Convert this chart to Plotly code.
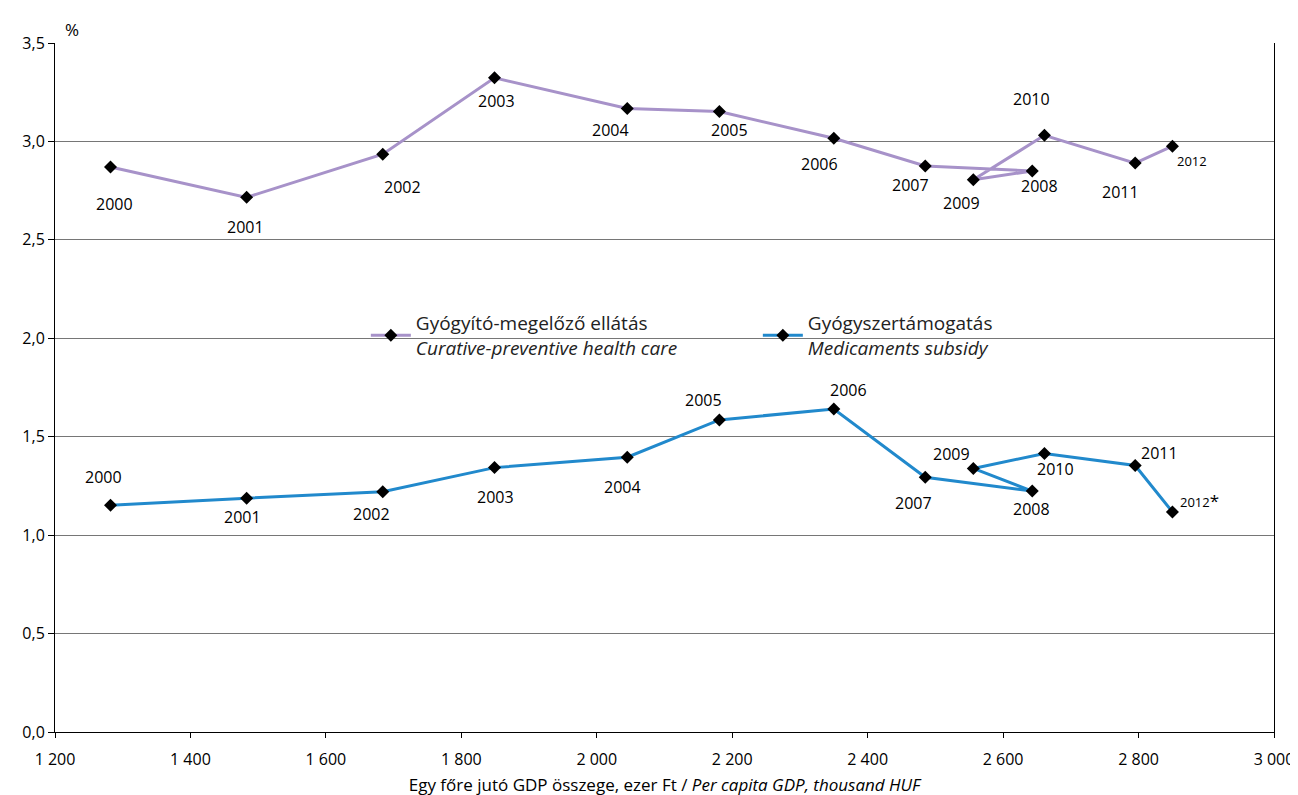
import plotly.graph_objects as go

YEARS = ["2000", "2001", "2002", "2003", "2004", "2005", "2006",
         "2007", "2008", "2009", "2010", "2011", "2012"]

# per capita GDP, thousand HUF
GDP = [1282, 1483, 1684, 1849, 2045, 2181, 2350, 2485, 2643, 2556, 2661, 2795, 2850]

# share of GDP, %
CURATIVE = [2.870, 2.716, 2.935, 3.323, 3.167, 3.152, 3.016, 2.875, 2.850, 2.805, 3.031, 2.890, 2.976]
MEDICAMENTS = [1.152, 1.188, 1.220, 1.343, 1.396, 1.585, 1.641, 1.294, 1.224, 1.339, 1.415, 1.354, 1.118]

# year label offsets in px (dx right, dy down)
CUR_OFF = [(4, 37), (-1, 30), (20, 33), (2, 23), (-17, 21), (10, 18), (-14, 26),
           (-15, 19), (7, 15), (-12, 23), (-13, -36), (-15, 29), (20, 15)]
MED_OFF = [(-7, -28), (-4, 19), (-11, 22), (1, 29), (-5, 30), (-16, -20), (15, -19),
           (-12, 26), (-1, 18), (-22, -14), (11, 16), (24, -12), (27, -11)]

PURPLE = "#a792c9"
BLUE = "#2189cc"
FONT = "Open Sans"

fig = go.Figure()
fig.add_trace(go.Scatter(
    x=GDP, y=CURATIVE, mode="lines+markers",
    name="Gyógyító-megelőző ellátás<br><i>Curative-preventive health care</i>",
    line=dict(color=PURPLE, width=3),
    marker=dict(symbol="diamond", size=10, color="black")))
fig.add_trace(go.Scatter(
    x=GDP, y=MEDICAMENTS, mode="lines+markers",
    name="Gyógyszertámogatás<br><i>Medicaments subsidy</i>",
    line=dict(color=BLUE, width=3),
    marker=dict(symbol="diamond", size=10, color="black")))

for i, yr in enumerate(YEARS):
    small = yr == "2012"
    dx, dy = CUR_OFF[i]
    fig.add_annotation(x=GDP[i], y=CURATIVE[i], text=yr, showarrow=False,
                       xshift=dx, yshift=-dy,
                       font=dict(size=13 if small else 16, color="black"))
    dx, dy = MED_OFF[i]
    txt = "2012<span style='font-size:17px'>*</span>" if small else yr
    fig.add_annotation(x=GDP[i], y=MEDICAMENTS[i], text=txt, showarrow=False,
                       xshift=dx, yshift=-dy,
                       font=dict(size=13 if small else 16, color="black"))

# white strip behind the legend, breaking the 2,0 gridline
fig.add_shape(type="rect", xref="paper", yref="y", x0=0.199, x1=0.810, y0=1.95, y1=2.05,
              fillcolor="white", line=dict(width=0), layer="between")

fig.add_annotation(xref="paper", yref="paper", x=0.0, y=1.0, xshift=8, yshift=14,
                   text="%", showarrow=False, xanchor="left", yanchor="middle",
                   font=dict(size=17, color="black"))

fig.update_xaxes(range=[1200, 3000], dtick=200, tickformat=",.0f",
                 showgrid=False, showline=True, linecolor="black", linewidth=1,
                 ticks="outside", ticklen=5, tickcolor="black", ticklabelstandoff=8,
                 tickfont=dict(size=16, color="black"), zeroline=False,
                 title=dict(text="Egy főre jutó GDP összege, ezer Ft / <i>Per capita GDP, thousand HUF</i>",
                            font=dict(size=17, color="black"), standoff=9))
fig.update_yaxes(range=[0, 3.5], dtick=0.5, tickformat=".1f",
                 showgrid=True, gridcolor="#767676", gridwidth=1,
                 showline=True, linecolor="black", linewidth=1, mirror=True,
                 ticks="outside", ticklen=6, tickcolor="black",
                 tickfont=dict(size=16, color="black"), zeroline=False)

fig.update_layout(
    width=1298, height=795,
    margin=dict(l=47, r=31, t=35, b=65),
    plot_bgcolor="white", paper_bgcolor="white",
    separators=", ",
    font=dict(family=FONT, color="black"),
    showlegend=True,
    legend=dict(orientation="h", x=0.255, xanchor="left", y=0.5755, yanchor="middle",
                bgcolor="rgba(0,0,0,0)", font=dict(size=19, color="#222"),
                itemwidth=40, entrywidth=337),
)

fig.write_html("out.html")
